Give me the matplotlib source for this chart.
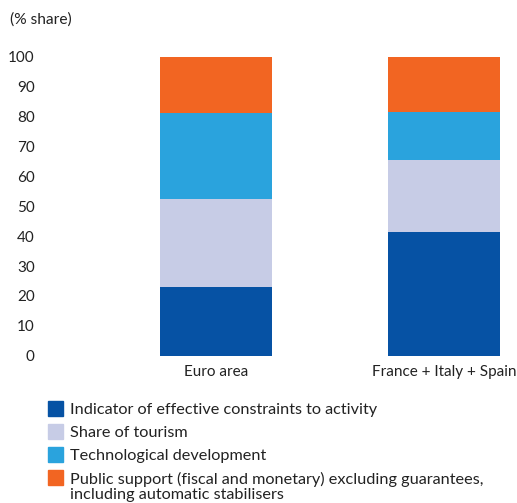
import matplotlib
matplotlib.use("Agg")
import matplotlib.pyplot as plt
from matplotlib.patches import Rectangle

categories = ["Euro area", "France + Italy + Spain"]
series_names = [
    "Indicator of effective constraints to activity",
    "Share of tourism",
    "Technological development",
    "Public support (fiscal and monetary) excluding guarantees,\nincluding automatic stabilisers",
]
constraints = [23.0, 41.4]
tourism = [29.5, 24.1]
technology = [28.75, 16.2]
public_support = [18.75, 18.3]
colors = ["#0652A4", "#C7CCE6", "#2AA3DD", "#F26522"]

plt.rcParams["font.family"] = ["Lato", "DejaVu Sans"]
plt.rcParams["text.color"] = "#222222"

fig = plt.figure(figsize=(5.17, 5.03), dpi=100)
W, H = 517, 503
# axes placed in pixel terms
ax = fig.add_axes([79.2 / W, (H - 355.7) / H, (512.4 - 79.2) / W, (355.7 - 57) / H])

x = [0, 1]
bottom = [0, 0]
for vals, col in zip([constraints, tourism, technology, public_support], colors):
    ax.bar(x, vals, width=0.49, bottom=bottom, color=col)
    bottom = [b + v for b, v in zip(bottom, vals)]

ax.set_xlim(-0.6, 1.3)
ax.set_ylim(0, 100)
ax.set_yticks(range(0, 101, 10))
ax.set_xticks(x)
ax.set_xticklabels(categories)
for s in ax.spines.values():
    s.set_visible(False)
ax.tick_params(axis="y", length=0, pad=32, labelsize=11, colors="#222222")
ax.tick_params(axis="x", length=0, pad=7, labelsize=11, colors="#222222")

fig.text(10 / W, 1 - 20 / H, "(% share)", fontsize=11.2, va="center", ha="left")

# legend
row_y = [408, 431, 454, 477]
for name, col, yy in zip(series_names, colors, row_y):
    fig.patches.append(Rectangle((48 / W, 1 - (yy + 7.5) / H), 15 / W, 15 / H,
                                 transform=fig.transFigure, color=col))
    fig.text(70.5 / W, 1 - (yy - 5) / H, name, fontsize=11.7, va="top", ha="left",
             linespacing=1.12)

fig.savefig("out.png", dpi=100)
